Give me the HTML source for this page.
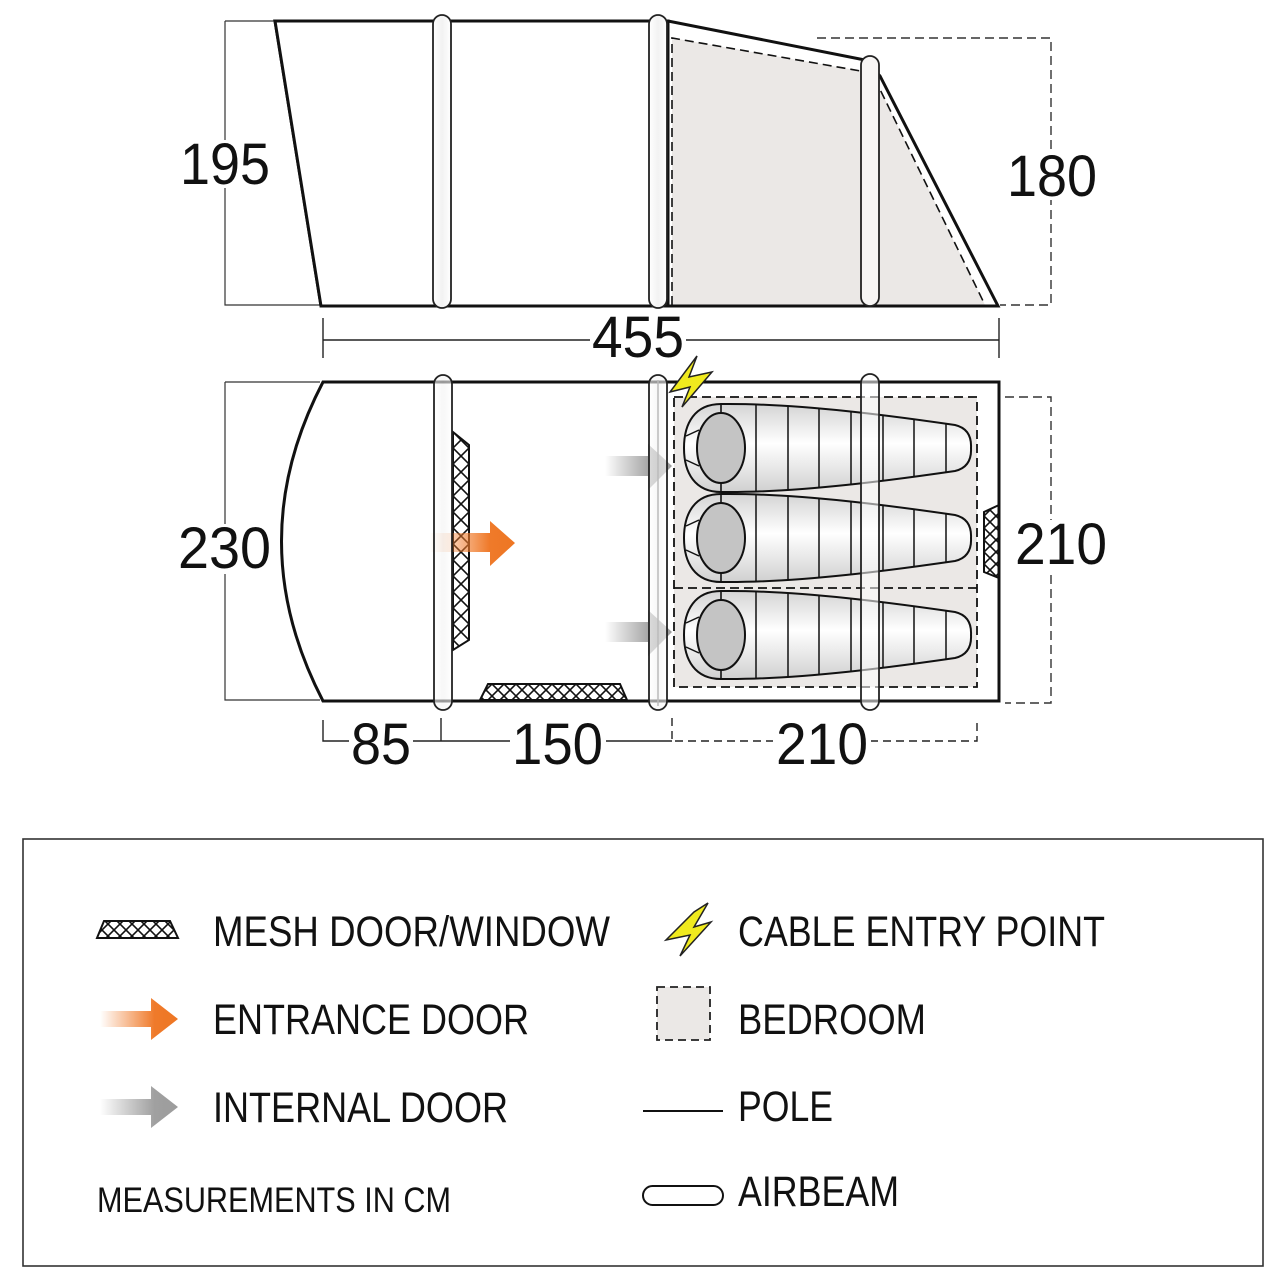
<!DOCTYPE html>
<html><head><meta charset="utf-8"><style>html,body{margin:0;padding:0;background:#fff}svg{display:block}</style></head><body>
<svg width="1284" height="1284" viewBox="0 0 1284 1284" xmlns="http://www.w3.org/2000/svg" font-family="Liberation Sans, sans-serif">
<defs>
<pattern id="mesh" width="12" height="12" patternUnits="userSpaceOnUse">
<path d="M0,0 L12,12 M12,0 L0,12" stroke="#111" stroke-width="1.6"/>
</pattern>
<pattern id="meshv" width="16" height="16" patternUnits="userSpaceOnUse" x="453" y="432">
<path d="M0,0 L16,16 M16,0 L0,16" stroke="#111" stroke-width="1.6"/>
</pattern>
<linearGradient id="og" x1="0" x2="1"><stop offset="0" stop-color="#f07a2a" stop-opacity="0"/><stop offset="0.7" stop-color="#ef7a2a"/><stop offset="1" stop-color="#ee7623"/></linearGradient>
<linearGradient id="gg" x1="0" x2="1"><stop offset="0" stop-color="#9a9a9a" stop-opacity="0"/><stop offset="0.7" stop-color="#a0a0a0"/><stop offset="1" stop-color="#9c9c9c"/></linearGradient>
<linearGradient id="bag" x1="0" y1="0" x2="0" y2="1"><stop offset="0" stop-color="#d4d4d4"/><stop offset="0.45" stop-color="#ffffff"/><stop offset="1" stop-color="#d0d0d0"/></linearGradient>
<linearGradient id="beam" x1="0" x2="1"><stop offset="0" stop-color="#fff"/><stop offset="0.5" stop-color="#f2f2f2"/><stop offset="1" stop-color="#fff"/></linearGradient>
<g id="sb">
<path d="M721,-44 C800,-45 900,-31 955,-23 Q972,-19 971,0 Q972,19 955,23 C900,31 800,45 721,44 C695,44 684,25 684,0 C684,-25 695,-44 721,-44 Z" fill="url(#bag)" stroke="#111" stroke-width="2"/>
<path d="M721,-44 V44" stroke="#111" stroke-width="1.6"/>
<ellipse cx="721" cy="0" rx="24" ry="35" fill="#c4c4c4" stroke="#111" stroke-width="2"/>
<path d="M686,-12 L699,-18 M686,12 L699,18" stroke="#111" stroke-width="1.5"/>
<path d="M756,-44 V44 M788,-42 V42 M819,-39 V39 M851,-36 V36 M883,-33 V33 M914,-29 V29 M946,-25 V25" stroke="#111" stroke-width="1.5"/>
</g>
</defs>

<!-- SIDE VIEW -->
<path d="M225,21 H275 M225,21 V305 H320" fill="none" stroke="#333" stroke-width="1.2"/>
<polygon points="672,38 872,73 985,305 672,305" fill="#ebe8e6"/>
<path d="M275,21 H668 L865,60 L880,76 L998,306 H321 Z" fill="none" stroke="#111" stroke-width="3"/>
<polygon points="275,21 668,21 668,306 321,306" fill="#fff" stroke="#111" stroke-width="3"/>
<path d="M672,305 V38 L872,73 L985,305" fill="none" stroke="#111" stroke-width="1.6" stroke-dasharray="9,5"/>
<path d="M817,38 H1051 V305 H1000" fill="none" stroke="#333" stroke-width="1.4" stroke-dasharray="9,5"/>
<rect x="433" y="15" width="18" height="293" rx="9" fill="url(#beam)" stroke="#222" stroke-width="1.8"/>
<rect x="649" y="15" width="18" height="293" rx="9" fill="url(#beam)" stroke="#222" stroke-width="1.8"/>
<rect x="861" y="56" width="18" height="250" rx="9" fill="#f7f5f4" stroke="#222" stroke-width="1.8"/>
<rect x="180" y="140" width="92" height="48" fill="#fff"/>
<text x="180" y="184" font-size="58" textLength="90" lengthAdjust="spacingAndGlyphs" fill="#111">195</text>
<rect x="1005" y="150" width="94" height="50" fill="#fff"/>
<text x="1007" y="196" font-size="58" textLength="90" lengthAdjust="spacingAndGlyphs" fill="#111">180</text>
<!-- 455 -->
<path d="M323,318 V358 M999,318 V358 M323,340 H999" stroke="#222" stroke-width="1.4"/>
<rect x="590" y="318" width="96" height="40" fill="#fff"/>
<text x="592" y="357" font-size="58" textLength="92" lengthAdjust="spacingAndGlyphs" fill="#111">455</text>

<!-- PLAN VIEW -->
<path d="M225,382 H320 M225,382 V700 H320" fill="none" stroke="#333" stroke-width="1.2"/>
<path d="M323,382 H999 V701 H323 Q240,541 323,382 Z" fill="#fff" stroke="#111" stroke-width="3"/>
<rect x="674" y="397" width="303" height="290" fill="#ebe8e6" stroke="#111" stroke-width="1.8" stroke-dasharray="9,5"/>
<path d="M674,588 H977" stroke="#111" stroke-width="1.8" stroke-dasharray="9,5"/>
<use href="#sb" y="448"/>
<use href="#sb" y="538"/>
<use href="#sb" y="635"/>
<path d="M1005,397 H1051 V703 H1005" fill="none" stroke="#333" stroke-width="1.4" stroke-dasharray="9,5"/>
<rect x="1012" y="520" width="98" height="50" fill="#fff"/>
<text x="1015" y="564" font-size="58" textLength="92" lengthAdjust="spacingAndGlyphs" fill="#111">210</text>
<rect x="176" y="524" width="98" height="50" fill="#fff"/>
<text x="178" y="568" font-size="58" textLength="93" lengthAdjust="spacingAndGlyphs" fill="#111">230</text>
<!-- meshes -->
<polygon points="453,432 469,445 469,640 453,650" fill="url(#meshv)" stroke="#111" stroke-width="2"/>
<polygon points="488,684 620,684 627,700 480,700" fill="url(#mesh)" stroke="#111" stroke-width="2"/>
<polygon points="999,505 984,512 984,572 999,578" fill="url(#mesh)" stroke="#111" stroke-width="2"/>
<!-- arrows -->
<polygon points="430,533 490,533 490,521 515,543 490,566 490,552 430,552" fill="url(#og)"/>
<polygon points="605,456 648,456 648,444 672,466 648,490 648,476 605,476" fill="url(#gg)"/>
<polygon points="605,622 648,622 648,610 672,632 648,656 648,642 605,642" fill="url(#gg)"/>
<!-- airbeams -->
<rect x="434" y="375" width="18" height="335" rx="9" fill="url(#beam)" fill-opacity="0.6" stroke="#222" stroke-width="1.8"/>
<rect x="649" y="375" width="18" height="335" rx="9" fill="url(#beam)" fill-opacity="0.6" stroke="#222" stroke-width="1.8"/>
<rect x="861" y="374" width="18" height="336" rx="9" fill="#fff" fill-opacity="0.55" stroke="#222" stroke-width="1.8"/>
<path d="M658,380 V706" stroke="#bbb" stroke-width="1.5"/>
<polygon points="697,356 689,377 712,372 682,407 690,387 670,392" fill="#f0ea1e" stroke="#222" stroke-width="1.5"/>
<!-- bottom dims -->
<path d="M323,720 V741 H672 M441,718 V741" fill="none" stroke="#222" stroke-width="1.4"/>
<path d="M672,718 V741 H977 V720" fill="none" stroke="#222" stroke-width="1.4" stroke-dasharray="8,5"/>
<rect x="349" y="720" width="64" height="50" fill="#fff"/>
<text x="351" y="764" font-size="58" textLength="60" lengthAdjust="spacingAndGlyphs" fill="#111">85</text>
<rect x="510" y="720" width="96" height="50" fill="#fff"/>
<text x="512" y="764" font-size="58" textLength="91" lengthAdjust="spacingAndGlyphs" fill="#111">150</text>
<rect x="773" y="720" width="98" height="50" fill="#fff"/>
<text x="776" y="764" font-size="58" textLength="92" lengthAdjust="spacingAndGlyphs" fill="#111">210</text>

<!-- LEGEND -->
<rect x="23" y="839" width="1240" height="427" fill="none" stroke="#333" stroke-width="1.6"/>
<polygon points="104,921 170,921 178,938 97,938" fill="url(#mesh)" stroke="#111" stroke-width="2"/>
<g font-size="43" fill="#111">
<text x="213" y="946" textLength="397" lengthAdjust="spacingAndGlyphs">MESH DOOR/WINDOW</text>
<text x="213" y="1034" textLength="316" lengthAdjust="spacingAndGlyphs">ENTRANCE DOOR</text>
<text x="213" y="1122" textLength="295" lengthAdjust="spacingAndGlyphs">INTERNAL DOOR</text>
<text x="738" y="946" textLength="367" lengthAdjust="spacingAndGlyphs">CABLE ENTRY POINT</text>
<text x="738" y="1034" textLength="188" lengthAdjust="spacingAndGlyphs">BEDROOM</text>
<text x="738" y="1121" textLength="95" lengthAdjust="spacingAndGlyphs">POLE</text>
<text x="738" y="1206" textLength="161" lengthAdjust="spacingAndGlyphs">AIRBEAM</text>
</g>
<text x="97" y="1212" font-size="35" fill="#111" textLength="354" lengthAdjust="spacingAndGlyphs">MEASUREMENTS IN CM</text>
<polygon points="100,1011 151,1011 151,998 178,1019 151,1040 151,1027 100,1027" fill="url(#og)"/>
<polygon points="100,1099 151,1099 151,1086 178,1107 151,1128 151,1115 100,1115" fill="url(#gg)"/>
<polygon points="708,903 694,927 711,922 680,956 690,935 666,940 694,912" fill="#f0ea1e" stroke="#222" stroke-width="1.5"/>
<rect x="657" y="987" width="53" height="53" fill="#ebe8e6" stroke="#222" stroke-width="1.8" stroke-dasharray="8,5"/>
<path d="M643,1111 H723" stroke="#111" stroke-width="2"/>
<rect x="643" y="1186" width="80" height="19" rx="9.5" fill="#fff" stroke="#111" stroke-width="2"/>
</svg>
</body></html>
